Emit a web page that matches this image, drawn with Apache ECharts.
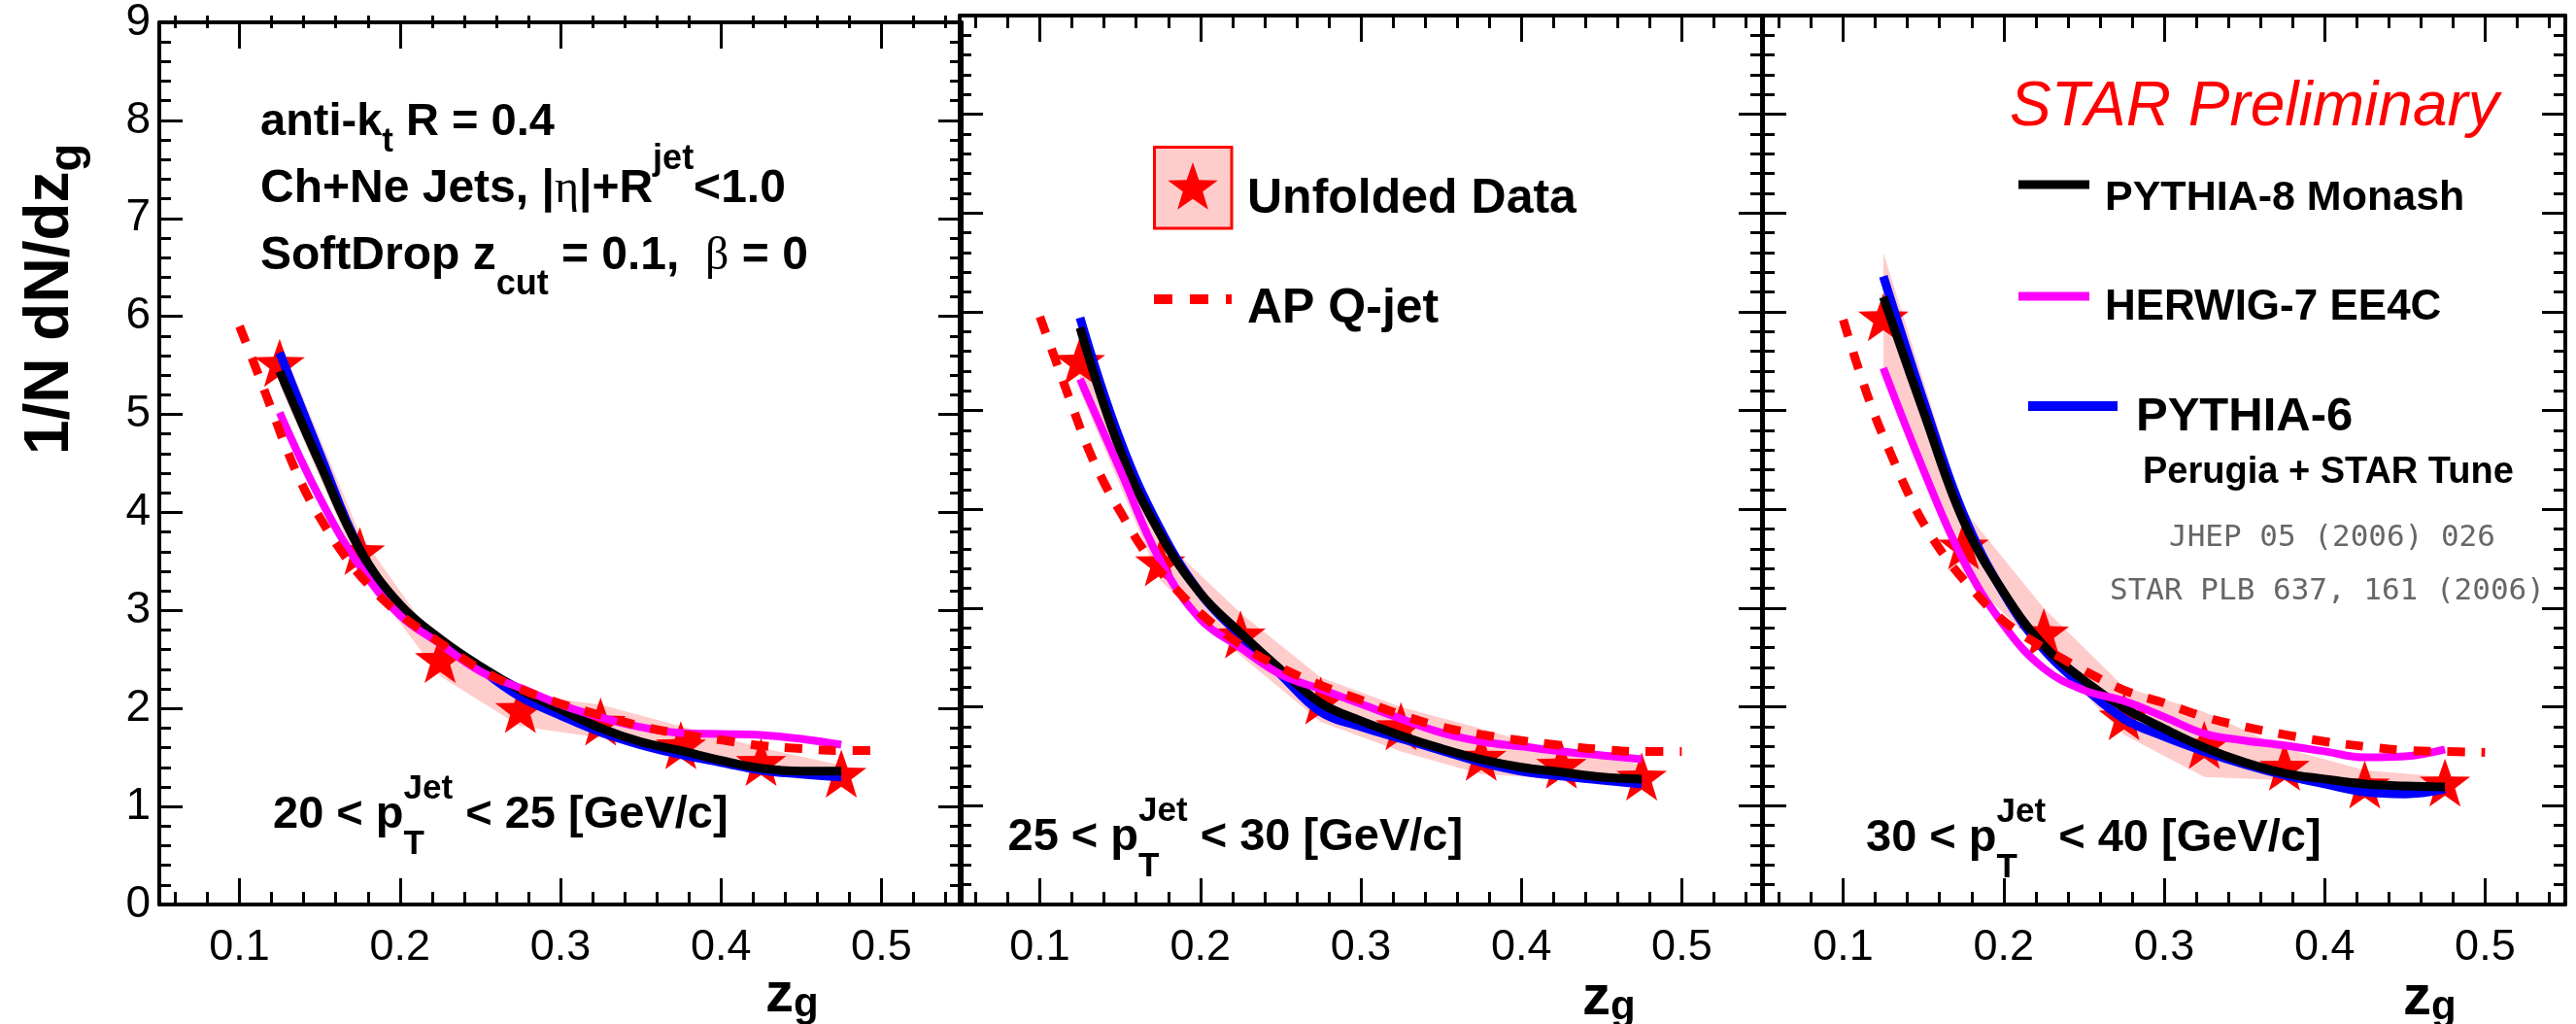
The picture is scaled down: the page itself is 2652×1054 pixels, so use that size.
<!DOCTYPE html>
<html>
<head>
<meta charset="utf-8">
<title>STAR z_g</title>
<script src="https://cdn.jsdelivr.net/npm/echarts@6/dist/echarts.min.js"></script>
<style>
  html, body { margin: 0; padding: 0; background: #fff; }
  #chart { width: 2652px; height: 1054px; }
</style>
</head>
<body>
<div id="chart"></div>
<script>
// z_g bin centres of the unfolded points
const zgBins = [0.125, 0.175, 0.225, 0.275, 0.325, 0.375, 0.425, 0.475];
// MC curves, read every 0.025
const zgModel = [0.125, 0.15, 0.175, 0.2, 0.225, 0.25, 0.275, 0.3, 0.325, 0.35, 0.375, 0.4, 0.425, 0.45, 0.475];
// AP Q-jet curve from 0.10 to 0.50
const zgQjet = [0.10, 0.11, 0.12, 0.13, 0.14, 0.15, 0.165, 0.18, 0.2, 0.225, 0.25, 0.275, 0.3, 0.325, 0.35, 0.375, 0.4, 0.425, 0.45, 0.475, 0.5];

const xMajor = [0.1, 0.2, 0.3, 0.4, 0.5];
const xMinor = [0.06, 0.08, 0.12, 0.14, 0.16, 0.18, 0.22, 0.24, 0.26, 0.28, 0.32, 0.34, 0.36, 0.38, 0.42, 0.44, 0.46, 0.48, 0.52, 0.54];

// 20 < pT < 25
const data20 = [5.50, 3.58, 2.48, 1.97, 1.84, 1.60, 1.43, 1.31];
const sysLo20 = [5.30, 3.42, 2.33, 1.82, 1.70, 1.48, 1.36, 1.25];
const sysHi20 = [5.75, 3.78, 2.62, 2.14, 2.04, 1.82, 1.60, 1.42];
const pythia8_20 = [5.44, 4.50, 3.62, 3.06, 2.71, 2.43, 2.19, 1.99, 1.80, 1.66, 1.57, 1.47, 1.39, 1.36, 1.36];
const pythia6_20 = [5.63, 4.60, 3.62, 3.02, 2.67, 2.40, 2.12, 1.93, 1.76, 1.63, 1.53, 1.45, 1.37, 1.33, 1.30];
const herwig7_20 = [5.02, 4.15, 3.45, 2.95, 2.66, 2.38, 2.21, 2.04, 1.91, 1.81, 1.75, 1.74, 1.73, 1.69, 1.63];
const qjet20 = [5.90, 5.48, 5.05, 4.62, 4.25, 3.95, 3.57, 3.27, 2.96, 2.67, 2.40, 2.20, 2.05, 1.93, 1.82, 1.74, 1.68, 1.62, 1.59, 1.57, 1.57];

// 25 < pT < 30
const data25 = [5.48, 3.44, 2.71, 2.04, 1.78, 1.47, 1.39, 1.27];
const sysLo25 = [5.20, 3.28, 2.52, 1.85, 1.55, 1.32, 1.27, 1.20];
const sysHi25 = [5.80, 3.72, 2.95, 2.30, 2.00, 1.78, 1.55, 1.42];
const pythia8_25 = [5.84, 4.60, 3.75, 3.15, 2.75, 2.38, 2.04, 1.86, 1.71, 1.58, 1.47, 1.39, 1.34, 1.29, 1.27];
const pythia6_25 = [5.94, 4.70, 3.80, 3.15, 2.72, 2.33, 1.95, 1.80, 1.68, 1.56, 1.44, 1.35, 1.30, 1.26, 1.22];
const herwig7_25 = [5.32, 4.40, 3.48, 2.89, 2.60, 2.33, 2.18, 2.03, 1.88, 1.74, 1.65, 1.60, 1.55, 1.51, 1.47];
const qjet25 = [5.95, 5.50, 5.05, 4.62, 4.27, 3.98, 3.58, 3.28, 2.95, 2.63, 2.40, 2.22, 2.07, 1.92, 1.80, 1.72, 1.66, 1.61, 1.57, 1.55, 1.55];

// 30 < pT < 40
const data30 = [5.92, 3.61, 2.73, 1.88, 1.59, 1.37, 1.19, 1.21];
const sysLo30 = [5.40, 3.35, 2.55, 1.72, 1.29, 1.26, 1.16, 1.16];
const sysHi30 = [6.60, 4.00, 3.00, 2.20, 1.95, 1.58, 1.36, 1.29];
const pythia8_30 = [6.15, 4.99, 3.88, 3.16, 2.62, 2.27, 1.99, 1.78, 1.59, 1.44, 1.33, 1.27, 1.22, 1.20, 1.19];
const pythia6_30 = [6.36, 5.10, 3.95, 3.15, 2.58, 2.20, 1.88, 1.70, 1.55, 1.42, 1.31, 1.22, 1.14, 1.12, 1.17];
const herwig7_30 = [5.43, 4.40, 3.48, 2.83, 2.39, 2.17, 2.06, 1.90, 1.73, 1.66, 1.61, 1.55, 1.49, 1.50, 1.57];
const qjet30 = [5.92, 5.40, 4.94, 4.55, 4.18, 3.86, 3.49, 3.20, 2.87, 2.60, 2.37, 2.17, 2.04, 1.90, 1.80, 1.72, 1.65, 1.60, 1.56, 1.55, 1.54];

const ptRanges = [['20', '25'], ['25', '30'], ['30', '40']];

const panels = [
  { val: data20, lo: sysLo20, hi: sysHi20, p8: pythia8_20, p6: pythia6_20, hw: herwig7_20, qj: qjet20 },
  { val: data25, lo: sysLo25, hi: sysHi25, p8: pythia8_25, p6: pythia6_25, hw: herwig7_25, qj: qjet25 },
  { val: data30, lo: sysLo30, hi: sysHi30, p8: pythia8_30, p6: pythia6_30, hw: herwig7_30, qj: qjet30 }
];

const SANS = '"Liberation Sans", Arial, Helvetica, sans-serif';
const SERIF = '"Liberation Serif", "DejaVu Serif", serif';
const MONO = '"DejaVu Sans Mono", "Liberation Mono", monospace';

const PANEL_LEFT = [164, 988, 1815];
const PANEL_W = 826, TOP = 16, PANEL_H = 915;

function starPoints(cx, cy, r, inner) {
  const pts = [];
  for (let k = 0; k < 10; k++) {
    const rr = k % 2 ? r * inner : r;
    const a = -Math.PI / 2 + k * Math.PI / 5;
    pts.push([cx + rr * Math.cos(a), cy + rr * Math.sin(a)]);
  }
  return pts;
}
const STAR = 'path://' + starPoints(0, 0, 1, 0.4).map((p, k) => (k ? 'L' : 'M') + p[0].toFixed(4) + ' ' + p[1].toFixed(4)).join('') + 'Z';

// text runs with sub/superscripts, measured on a canvas
const cv = document.createElement('canvas').getContext('2d');
function fontOf(p) {
  return (p.italic ? 'italic ' : '') + (p.bold === false ? 'normal ' : 'bold ') + p.size + 'px ' + (p.family || SANS);
}
function textRun(x, baseline, parts) {
  const els = [];
  let cx = x, stackW = 0;
  parts.forEach(p => {
    const f = fontOf(p);
    cv.font = f;
    cv.textBaseline = 'middle';
    const m = cv.measureText(p.t);
    const off = Math.abs(m.alphabeticBaseline || 0) || 0.3465 * p.size;
    els.push({
      type: 'text', x: cx, y: baseline + (p.dy || 0) - off, silent: true,
      style: { text: p.t, font: f, fill: p.color || '#000', align: 'left', verticalAlign: 'middle', textAlign: 'left', textVerticalAlign: 'middle' }
    });
    if (p.stack) { stackW = Math.max(stackW, m.width); }
    else { cx += Math.max(m.width, stackW); stackW = 0; }
  });
  return els;
}

const grids = [], xAxes = [], yAxes = [], series = [];
const tickStyle = { color: '#000', width: 3 };
const lineAx = { show: true, onZero: false, lineStyle: { color: '#000', width: 4 } };

for (let i = 0; i < 3; i++) {
  grids.push({ left: PANEL_LEFT[i], top: TOP, width: PANEL_W, height: PANEL_H });
  const base = { gridIndex: i, type: 'value', min: 0.05, max: 0.55, splitLine: { show: false }, axisLine: lineAx };
  xAxes.push({ ...base, position: 'bottom',
    axisTick: { inside: true, length: 27, lineStyle: tickStyle, customValues: xMajor },
    axisLabel: { customValues: xMajor, formatter: v => v.toFixed(1), fontSize: 45, fontFamily: SANS, color: '#000', margin: 22 } });
  xAxes.push({ ...base, position: 'top',
    axisTick: { inside: true, length: 27, lineStyle: tickStyle, customValues: xMajor }, axisLabel: { show: false } });
  const ybase = { gridIndex: i, type: 'value', min: 0, max: 9, interval: 1, splitLine: { show: false }, axisLine: lineAx,
    axisTick: { inside: true, length: 24, lineStyle: tickStyle },
    minorTick: { show: true, splitNumber: 5, length: 12, lineStyle: tickStyle } };
  yAxes.push({ ...ybase, position: 'left',
    axisLabel: { show: i === 0, fontSize: 46, fontFamily: SANS, color: '#000', margin: 9 } });
  yAxes.push({ ...ybase, position: 'right', axisLabel: { show: false } });
}
// overlapping grids carrying the minor x ticks
for (let i = 0; i < 3; i++) {
  grids.push({ left: PANEL_LEFT[i], top: TOP, width: PANEL_W, height: PANEL_H });
  const base = { gridIndex: 3 + i, type: 'value', min: 0.05, max: 0.55, splitLine: { show: false },
    axisLine: { show: false, onZero: false }, axisLabel: { show: false } };
  xAxes.push({ ...base, position: 'bottom', axisTick: { inside: true, length: 13, lineStyle: tickStyle, customValues: xMinor } });
  xAxes.push({ ...base, position: 'top', axisTick: { inside: true, length: 13, lineStyle: tickStyle, customValues: xMinor } });
  yAxes.push({ gridIndex: 3 + i, type: 'value', min: 0, max: 9, show: false });
}

panels.forEach((d, i) => {
  const xa = 2 * i, ya = 2 * i;
  series.push({
    type: 'custom', xAxisIndex: xa, yAxisIndex: ya, z: 1, silent: true,
    data: [[zgBins[0], d.val[0]]],
    renderItem: (params, api) => {
      const up = zgBins.map((z, k) => api.coord([z, d.hi[k]]));
      const dn = zgBins.map((z, k) => api.coord([z, d.lo[k]])).reverse();
      return { type: 'polygon', shape: { points: up.concat(dn) }, style: { fill: '#ffcccc' } };
    }
  });
  series.push({
    type: 'scatter', xAxisIndex: xa, yAxisIndex: ya, z: 2,
    data: zgBins.map((z, k) => [z, d.val[k]]),
    symbol: STAR, symbolSize: [52, 49.5], symbolOffset: [0, -2.6],
    itemStyle: { color: '#ff0000', opacity: 1 }
  });
  const curve = (x, y, color, width, z, dash) => ({
    type: 'line', xAxisIndex: xa, yAxisIndex: ya, z: z, smooth: 0.4, symbol: 'none', showSymbol: false,
    data: x.map((v, k) => [v, y[k]]),
    lineStyle: { color: color, width: width, type: dash || 'solid', cap: 'butt' }
  });
  series.push(curve(zgModel, d.p6, '#0000ff', 9, 3));
  series.push(curve(zgModel, d.p8, '#000000', 9, 4));
  series.push(curve(zgModel, d.hw, '#ff00ff', 8, 5));
  series.push(curve(zgQjet, d.qj, '#ff0000', 9, 6, [18, 17]));
});

// ---- text & legends ----
let g = [];
// y title, rotated
g.push({ type: 'group', x: 70, y: 468, rotation: Math.PI / 2,
  children: textRun(0, 0, [{ t: '1/N dN/dz', size: 64 }, { t: 'g', size: 47, dy: 13 }]) });
// x titles
[[788, 1041], [1629, 1044], [2474, 1044]].forEach(p => {
  g = g.concat(textRun(p[0], p[1], [{ t: 'z', size: 58 }, { t: 'g', size: 42, dy: 5 }]));
});
// panel 1 annotations
g = g.concat(textRun(268, 139, [{ t: 'anti-k', size: 47 }, { t: 't', size: 35, dy: 17 }, { t: ' R = 0.4', size: 47 }]));
g = g.concat(textRun(268, 208, [{ t: 'Ch+Ne Jets, |', size: 48 }, { t: 'η', size: 48, bold: false, family: SERIF },
  { t: '|+R', size: 48 }, { t: 'jet', size: 36, dy: -34 }, { t: '<1.0', size: 48 }]));
g = g.concat(textRun(268, 277, [{ t: 'SoftDrop z', size: 48 }, { t: 'cut', size: 36, dy: 26 }, { t: ' = 0.1,  ', size: 48 },
  { t: 'β', size: 48, bold: false, family: SERIF }, { t: ' = 0', size: 48 }]));
// pT ranges
[[281, 851.5], [1037.5, 874.5], [1921, 876]].forEach((p, i) => {
  g = g.concat(textRun(p[0], p[1], [{ t: ptRanges[i][0] + ' < p', size: 47 }, { t: 'T', size: 35, dy: 27, stack: true },
    { t: 'Jet', size: 35, dy: -30 }, { t: ' < ' + ptRanges[i][1] + ' [GeV/c]', size: 47 }]));
});
// legend, panel 2
g.push({ type: 'rect', shape: { x: 1188.5, y: 151.5, width: 79.5, height: 83.5 }, style: { fill: '#ffcccc', stroke: '#ff0000', lineWidth: 3 }, silent: true });
g.push({ type: 'polygon', shape: { points: starPoints(1228, 194, 27, 0.4) }, style: { fill: '#ff0000' }, silent: true });
g = g.concat(textRun(1284, 219, [{ t: 'Unfolded Data', size: 50 }]));
g.push({ type: 'line', shape: { x1: 1188, y1: 308, x2: 1268, y2: 308 }, style: { stroke: '#ff0000', lineWidth: 10, lineDash: [19, 18] }, silent: true });
g = g.concat(textRun(1284, 332, [{ t: 'AP Q-jet', size: 50 }]));
// panel 3
g = g.concat(textRun(2069, 129, [{ t: 'STAR Preliminary', size: 64, bold: false, italic: true, color: '#ff0000' }]));
g.push({ type: 'line', shape: { x1: 2078, y1: 190, x2: 2151, y2: 190 }, style: { stroke: '#000', lineWidth: 9 }, silent: true });
g = g.concat(textRun(2167, 216, [{ t: 'PYTHIA-8 Monash', size: 43 }]));
g.push({ type: 'line', shape: { x1: 2078, y1: 305, x2: 2151, y2: 305 }, style: { stroke: '#ff00ff', lineWidth: 9 }, silent: true });
g = g.concat(textRun(2167, 329, [{ t: 'HERWIG-7 EE4C', size: 44 }]));
g.push({ type: 'line', shape: { x1: 2088, y1: 418, x2: 2180, y2: 418 }, style: { stroke: '#0000ff', lineWidth: 10 }, silent: true });
g = g.concat(textRun(2199, 442.5, [{ t: 'PYTHIA-6', size: 49 }]));
g = g.concat(textRun(2206, 497, [{ t: 'Perugia + STAR Tune', size: 38 }]));
g = g.concat(textRun(2233, 562, [{ t: 'JHEP 05 (2006) 026', size: 31, bold: false, family: MONO, color: '#666' }]));
g = g.concat(textRun(2172, 617, [{ t: 'STAR PLB 637, 161 (2006)', size: 31, bold: false, family: MONO, color: '#666' }]));

const chart = echarts.init(document.getElementById('chart'), null, { renderer: 'canvas', width: 2652, height: 1054 });
chart.setOption({
  backgroundColor: '#fff',
  animation: false,
  grid: grids,
  xAxis: xAxes,
  yAxis: yAxes,
  series: series,
  graphic: { elements: g }
});
</script>
</body>
</html>
